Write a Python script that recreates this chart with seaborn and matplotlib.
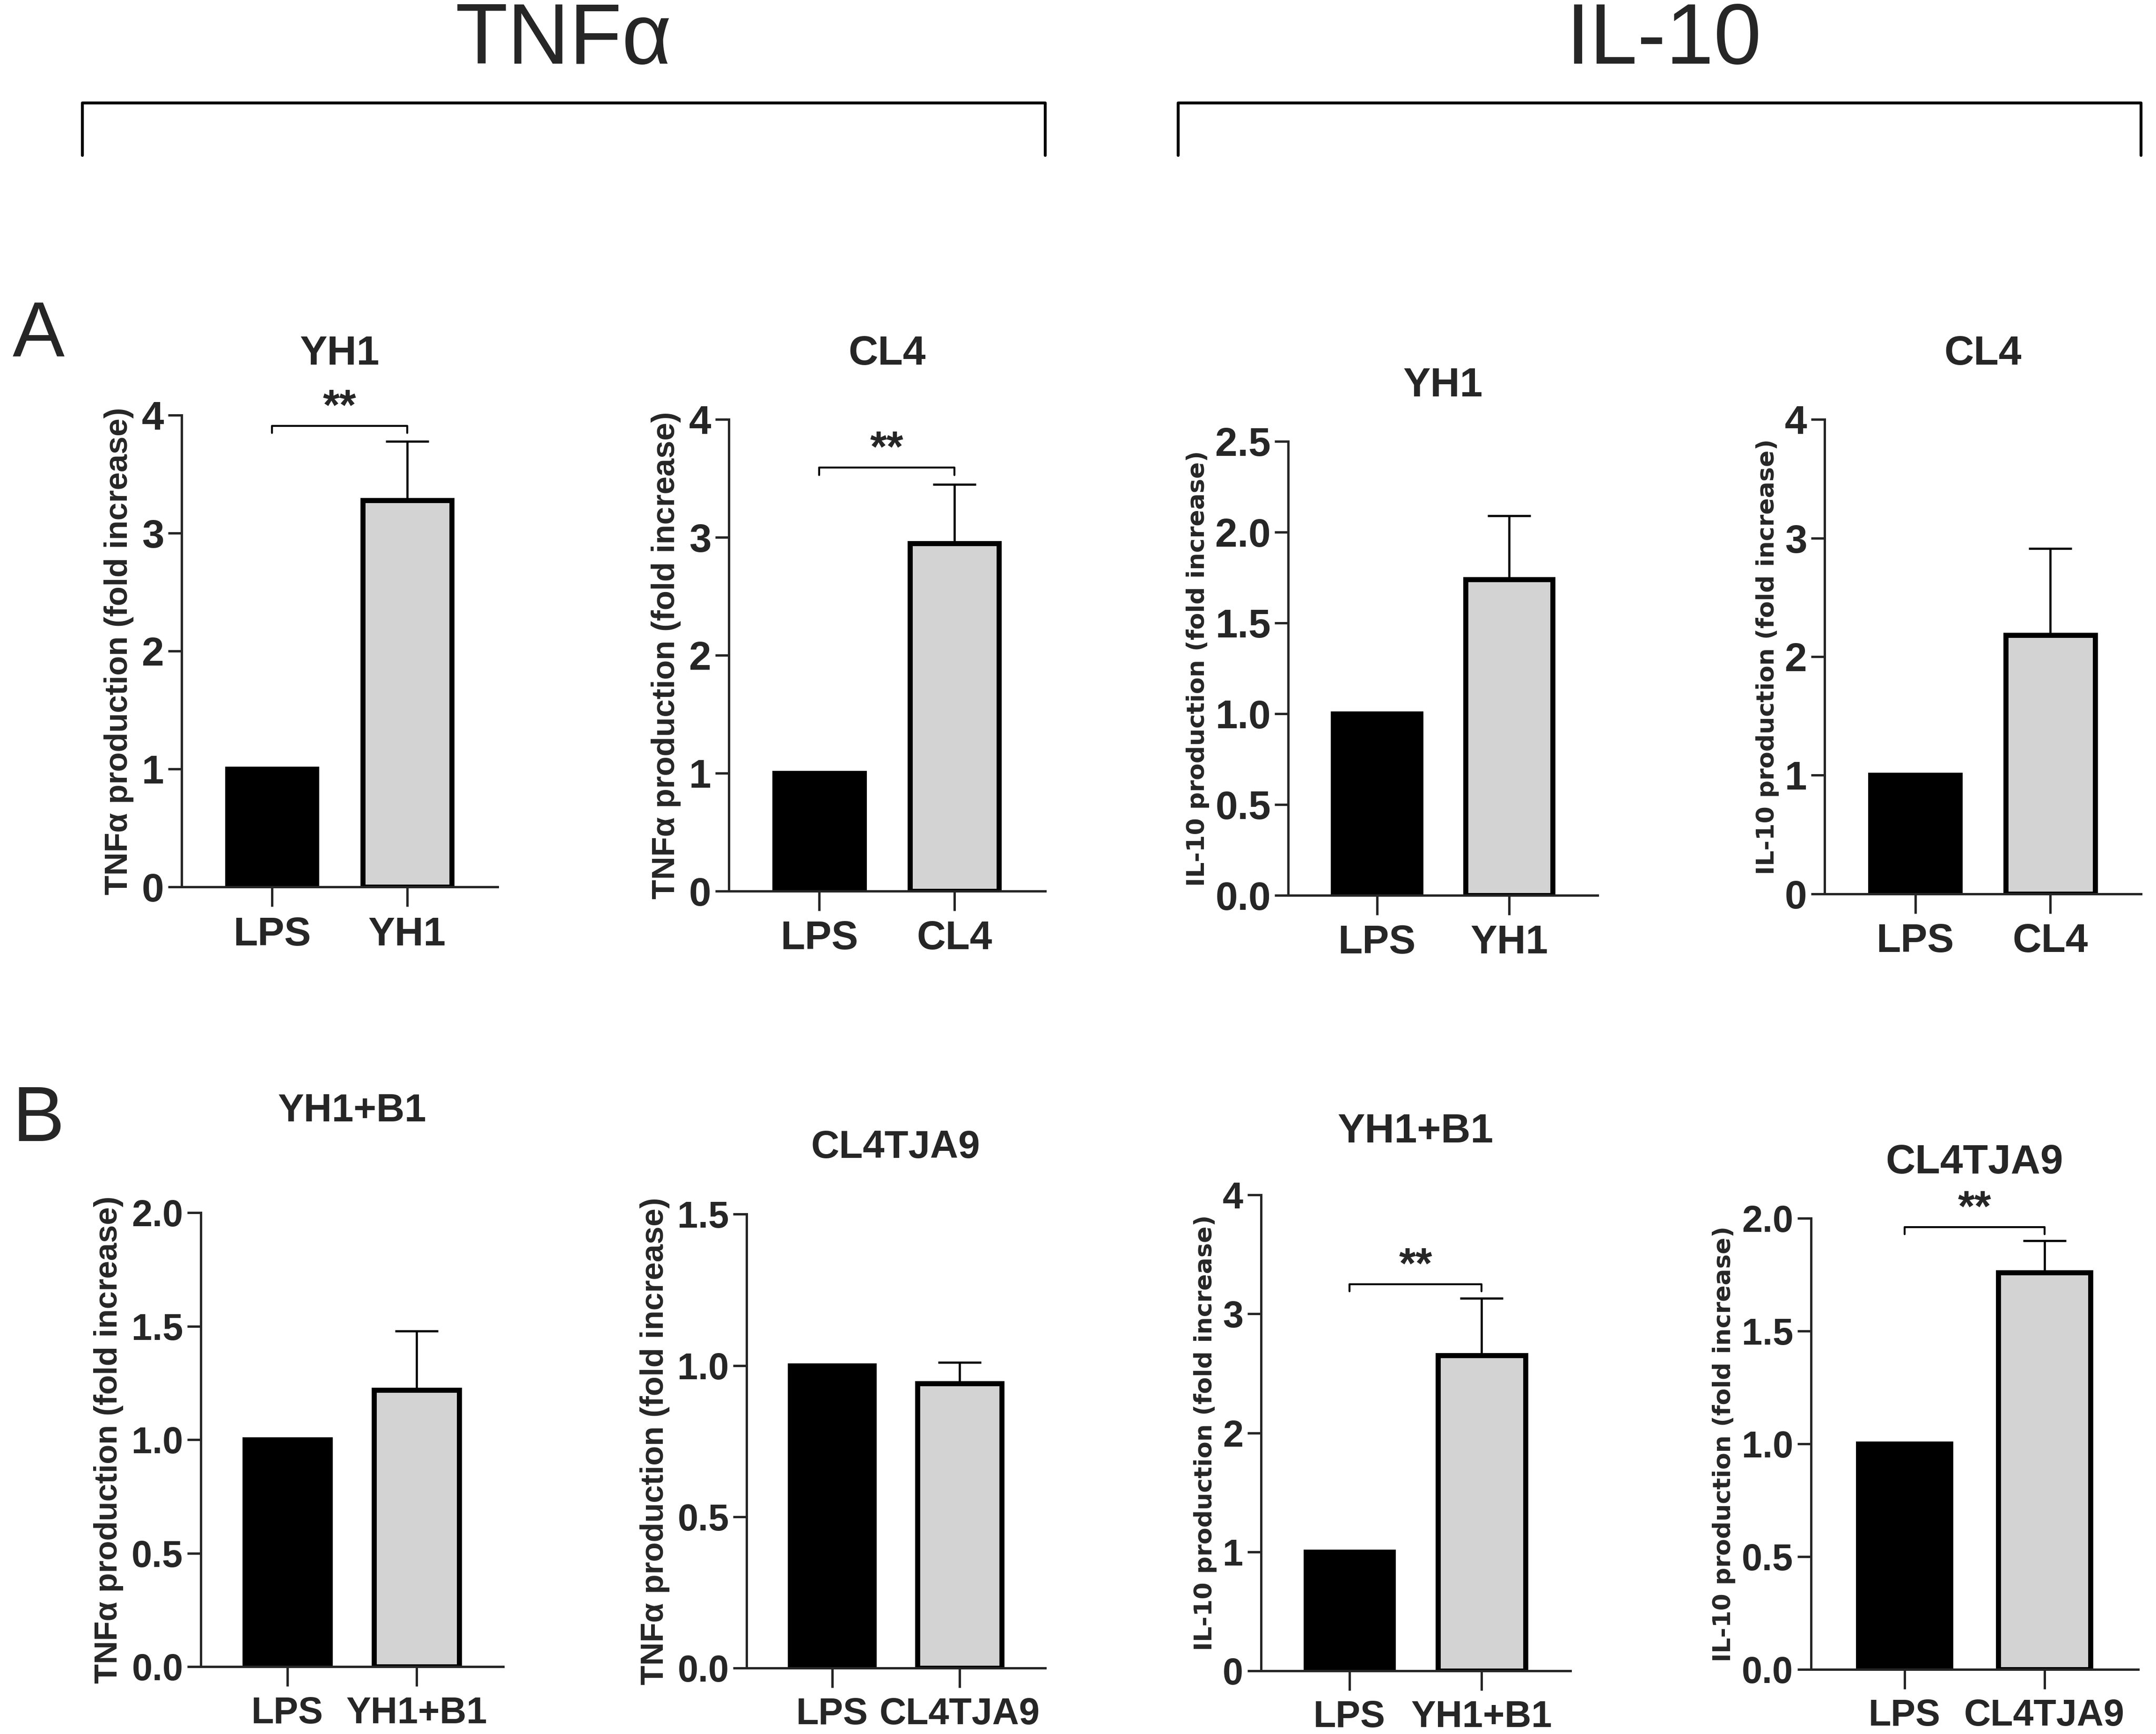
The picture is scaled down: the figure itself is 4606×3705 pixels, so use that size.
import matplotlib
matplotlib.use('Agg')
import matplotlib.pyplot as plt
import seaborn as sns
import pandas as pd

# data
panel_titles = ['YH1', 'CL4', 'YH1', 'CL4', 'YH1+B1', 'CL4TJA9', 'YH1+B1', 'CL4TJA9']
groups = [['LPS', t] for t in panel_titles]
lps_vals = [1.0, 1.0, 1.0, 1.0, 1.0, 1.0, 1.0, 1.0]
treat_vals = [3.28, 2.95, 1.74, 2.18, 1.22, 0.94, 2.65, 1.76]
treat_err = [0.50, 0.50, 0.35, 0.73, 0.26, 0.07, 0.48, 0.14]
y_max = [4, 4, 2.5, 4, 2.0, 1.5, 4, 2.0]
y_step = [1, 1, 0.5, 1, 0.5, 0.5, 1, 0.5]
sig_y = [3.91, 3.59, None, None, None, None, 3.25, 1.96]
ylabels = ['TNF\u03b1 production (fold increase)'] * 2 + ['IL-10 production (fold increase)'] * 2 + \
          ['TNF\u03b1 production (fold increase)'] * 2 + ['IL-10 production (fold increase)'] * 2

sns.set_style('ticks')
plt.rcParams['font.family'] = ['Liberation Sans', 'DejaVu Sans']

W, H = 1568, 1261
fig = plt.figure(figsize=(4606 / 300, 3705 / 300), dpi=300)

# axes boxes in reference pixels: left, right, y of 0, y of top
boxes = [(132, 362, 645, 302), (530, 760, 648, 305), (937, 1162, 651, 321), (1327, 1557, 650, 305),
         (146, 366, 1212, 882), (543, 760, 1213, 883), (917, 1142, 1215, 869), (1317, 1555, 1214, 886)]
title_pad = [26, 28, 23, 28, 47, 29, 27, 23]
title_size = [21, 21, 21, 21, 20, 20, 21, 21]
tick_size = [20.5, 20.5, 20.5, 20.5, 19, 19, 19, 19]

for i, (l, r, y0, yt) in enumerate(boxes):
    ax = fig.add_axes([l / W, 1 - y0 / H, (r - l) / W, (y0 - yt) / H])
    df = pd.DataFrame({'grp': groups[i], 'val': [lps_vals[i], treat_vals[i]]})
    sns.barplot(data=df, x='grp', y='val', hue='grp', palette=['black', '#d3d3d3'],
                width=0.66, edgecolor='black', linewidth=2.6, legend=False, ax=ax)
    ax.errorbar([1], [treat_vals[i]], yerr=[[0], [treat_err[i]]], fmt='none',
                ecolor='black', elinewidth=1.1, capsize=11, capthick=1.1)
    ax.set_xlim(-0.67, 1.67)
    ax.set_ylim(0, y_max[i])
    ticks = [k * y_step[i] for k in range(int(round(y_max[i] / y_step[i])) + 1)]
    ax.set_yticks(ticks)
    if y_step[i] < 1:
        ax.set_yticklabels([f'{t:.1f}' for t in ticks])
    else:
        ax.set_yticklabels([f'{int(t)}' for t in ticks])
    sns.despine(ax=ax)
    ax.spines['left'].set_linewidth(1.2)
    ax.spines['bottom'].set_linewidth(1.2)
    ax.tick_params(axis='y', length=7, width=1.2, pad=2)
    ax.tick_params(axis='x', length=10, width=1.2, pad=5)
    for lab in ax.get_yticklabels() + ax.get_xticklabels():
        lab.set_fontweight('bold')
        lab.set_fontsize(tick_size[i])
    ax.set_xlabel('')
    if 'IL-10' in ylabels[i]:
        ax.set_ylabel(ylabels[i], fontsize=12.5, fontweight='bold', family=['DejaVu Sans'], labelpad=3)
    else:
        ax.set_ylabel(ylabels[i], fontsize=16.5, fontweight='bold', labelpad=4)
    ax.set_title(panel_titles[i], fontsize=title_size[i], fontweight='bold', pad=title_pad[i])
    if sig_y[i] is not None:
        s = sig_y[i]
        d = y_max[i] * 0.015
        ax.plot([0, 0, 1, 1], [s - d, s, s, s - d], color='black', lw=1.0, clip_on=False)
        ax.text(0.5, s - y_max[i] * 0.005, '**', ha='center', va='bottom', fontsize=22,
                fontweight='bold')

# header brackets and labels
for x0, x1, txt, tx in [(60, 760, 'TNF\u03b1', 410), (857, 1557, 'IL-10', 1210)]:
    fig.add_artist(plt.Line2D([x0 / W, x0 / W, x1 / W, x1 / W],
                              [1 - 113 / H, 1 - 75 / H, 1 - 75 / H, 1 - 113 / H],
                              color='black', lw=1.5))
    fig.text(tx / W, 1 - 30 / H, txt, ha='center', va='center', fontsize=44)

fig.text(28 / W, 1 - 245 / H, 'A', ha='center', va='center', fontsize=40)
fig.text(28 / W, 1 - 815 / H, 'B', ha='center', va='center', fontsize=40)

fig.savefig('out.png', dpi=300)
